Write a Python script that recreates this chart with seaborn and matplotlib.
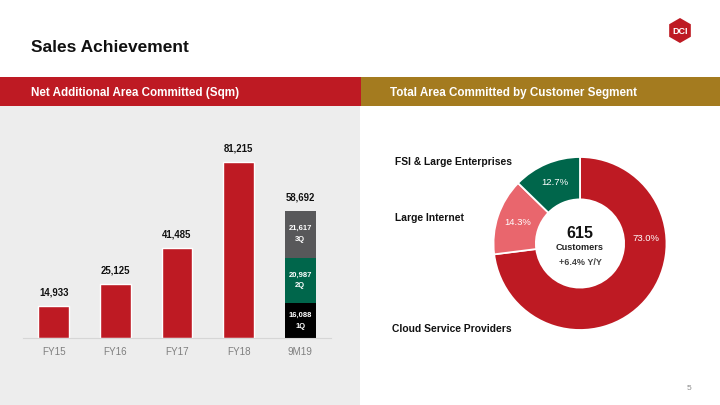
import numpy as np
import pandas as pd
import matplotlib
matplotlib.use("Agg")
import matplotlib.pyplot as plt
from matplotlib.patches import Rectangle, Polygon
import seaborn as sns

# ── data ─────────────────────────────────────────────────────────────────────
periods     = ["FY15", "FY16", "FY17", "FY18", "9M19"]
fy_periods  = ["FY15", "FY16", "FY17", "FY18"]
fy_values   = [14933, 25125, 41485, 81215]
q_labels    = ["1Q", "2Q", "3Q"]
q_values    = [16088, 20987, 21617]

segments    = ["Cloud Service Providers", "Large Internet", "FSI & Large Enterprises"]
seg_share   = [73.0, 14.3, 12.7]
customers   = 615
cust_growth = "+6.4% Y/Y"

# ── colours ──────────────────────────────────────────────────────────────────
RED   = "#BE1A23"
GOLD  = "#A47B1F"
GREEN = "#00664B"
PINK  = "#E9666D"
DGREY = "#58585A"
PANEL = "#EDEDED"
q_colors = ["#000000", GREEN, DGREY]

sns.set_theme(style="white")
plt.rcParams["font.family"] = ["Liberation Sans", "DejaVu Sans"]

W, H = 720, 405
fig = plt.figure(figsize=(W / 100, H / 100), dpi=100)
fig.patch.set_facecolor("white")


def px(x, y):
    """pixel (top-left origin) -> figure fraction"""
    return x / W, 1 - y / H


# ── page furniture (kept behind the axes) ────────────────────────────────────
for xy, w, h, col in [((0, 0), 360 / W, 1 - 106 / H, PANEL),
                      (px(0, 106), 361 / W, 29 / H, RED),
                      (px(361, 106), 359 / W, 29 / H, GOLD)]:
    fig.patches.append(Rectangle(xy, w, h, transform=fig.transFigure,
                                 facecolor=col, edgecolor="none", zorder=-10))

fig.text(*px(31, 48), "Sales Achievement", fontsize=12.5, fontweight="bold",
         color="#111111", va="center", ha="left")
fig.text(*px(31, 93), "Net Additional Area Committed (Sqm)", fontsize=8.4,
         fontweight="bold", color="white", va="center", ha="left")
fig.text(*px(390, 93), "Total Area Committed by Customer Segment", fontsize=8.4,
         fontweight="bold", color="white", va="center", ha="left")
fig.text(*px(689, 389), "5", fontsize=6, color="#8C8C8C", va="center", ha="center")

# logo: red hexagon with white letters
hx, hy, hr = 680, 30.5, 12.5
hexagon = [px(hx + hr * np.sin(a), hy - hr * np.cos(a))
           for a in np.deg2rad(np.arange(0, 360, 60))]
fig.patches.append(Polygon(hexagon, closed=True, transform=fig.transFigure,
                           facecolor=RED, edgecolor="none"))
fig.text(*px(hx, hy + 1), "DCI", fontsize=6.5, fontweight="bold", color="white",
         ha="center", va="center")

# ── bar chart ────────────────────────────────────────────────────────────────
base_y, scale_top = 338.3, 120.8
ax = fig.add_axes([23 / W, 1 - base_y / H, 308 / W, (base_y - scale_top) / H])
ax.set_facecolor("none")

df = pd.DataFrame({"period": fy_periods, "value": fy_values})
sns.barplot(data=df, x="period", y="value", order=periods, color=RED,
            saturation=1, width=0.5, ax=ax)

bottom = 0
for lab, val, col in zip(q_labels, q_values, q_colors):
    ax.bar(4, val, bottom=bottom, width=0.5, color=col, edgecolor="none")
    ax.text(4, bottom + val / 2, f"{val:,}\n{lab}", ha="center", va="center",
            fontsize=5.5, fontweight="bold", color="white", linespacing=1.8)
    bottom += val

totals = fy_values + [sum(q_values)]
for i, v in enumerate(totals):
    ax.annotate(f"{v:,}", (i, v), xytext=(0, 6), textcoords="offset points",
                ha="center", va="bottom", fontsize=6.9, fontweight="bold",
                color="#111111")

ax.set_xlim(-0.5, 4.5)
ax.set_ylim(0, 100000)
ax.set_xlabel("")
ax.set_ylabel("")
ax.set_yticks([])
ax.tick_params(axis="x", length=0, pad=6, labelsize=7.1, labelcolor="#7F7F7F")
for s in ["top", "right", "left"]:
    ax.spines[s].set_visible(False)
ax.spines["bottom"].set_color("#D6D6D6")
ax.spines["bottom"].set_linewidth(0.8)

# ── donut chart ──────────────────────────────────────────────────────────────
cx, cy, R = 580, 243.5, 86.5
half = 100
pax = fig.add_axes([(cx - half) / W, 1 - (cy + half) / H, 2 * half / W, 2 * half / H])
pie_colors = [RED, PINK, GREEN]
wedges, _ = pax.pie(seg_share, colors=pie_colors, startangle=90, counterclock=False,
                    radius=1, wedgeprops=dict(width=0.49, edgecolor="white", linewidth=1.3))
lim = half / R
pax.set_xlim(-lim, lim)
pax.set_ylim(-lim, lim)
pax.set_aspect("equal")
pax.axis("off")

# percentage labels: red one sits on the right, others at wedge middles
r_lab = 0.76
for i, (w, share) in enumerate(zip(wedges, seg_share)):
    if i == 0:
        ang = np.deg2rad(4)
    else:
        ang = np.deg2rad((w.theta1 + w.theta2) / 2)
    pax.text(r_lab * np.cos(ang), r_lab * np.sin(ang), f"{share:.1f}%",
             ha="center", va="center", fontsize=6.8, color="white")

pax.text(0, 0.12, f"{customers}", ha="center", va="center", fontsize=11.5,
         fontweight="bold", color="#111111")
pax.text(0, -0.052, "Customers", ha="center", va="center", fontsize=6.6,
         fontweight="bold", color="#222222")
pax.text(0, -0.214, cust_growth, ha="center", va="center", fontsize=6.5,
         fontweight="bold", color="#444444")

seg_label_pos = {"FSI & Large Enterprises": (395, 162),
                 "Large Internet": (395, 218),
                 "Cloud Service Providers": (392, 329)}
for name in segments:
    fig.text(*px(*seg_label_pos[name]), name, fontsize=7.4, fontweight="bold",
             color="#111111", ha="left", va="center")

fig.savefig("out.png", dpi=100)
